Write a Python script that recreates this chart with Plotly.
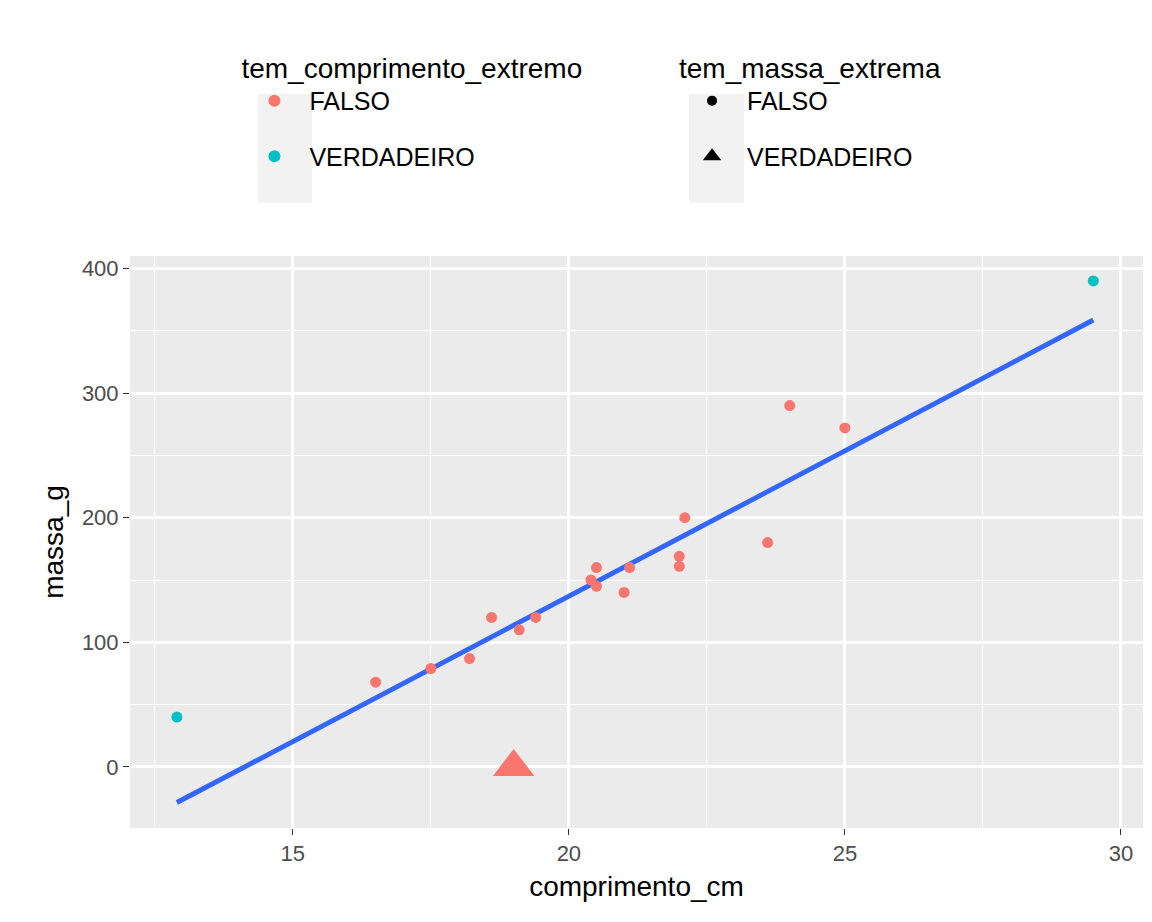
import numpy as np
import plotly.graph_objects as go

# data
comprimento_cm = [12.9, 29.5, 19.0, 16.5, 17.5, 18.2, 18.6, 19.1, 19.4, 20.4, 20.5, 20.5,
                  21.0, 21.1, 22.0, 22.0, 22.1, 23.6, 24.0, 25.0]
massa_g = [40, 390, 0, 68, 79, 87, 120, 110, 120, 150, 160, 145,
           140, 160, 169, 161, 200, 180, 290, 272]
comp_extremo = [True, True] + [False] * 18
massa_extrema = [False, False, True] + [False] * 17

RED, TEAL = "#F8766D", "#00BFC4"

fig = go.Figure()

coef = np.polyfit(comprimento_cm, massa_g, 1)
xs = [min(comprimento_cm), max(comprimento_cm)]
fig.add_trace(go.Scatter(x=xs, y=[coef[0] * v + coef[1] for v in xs], mode="lines",
                         line=dict(color="#3366FF", width=5), showlegend=False, hoverinfo="skip"))

for ce in (False, True):
    for me in (False, True):
        xx = [x for x, c, m in zip(comprimento_cm, comp_extremo, massa_extrema) if c == ce and m == me]
        yy = [y for y, c, m in zip(massa_g, comp_extremo, massa_extrema) if c == ce and m == me]
        if not xx:
            continue
        fig.add_trace(go.Scatter(x=xx, y=yy, mode="markers", showlegend=False,
                                 marker=dict(color=TEAL if ce else RED,
                                             symbol="triangle-up" if me else "circle",
                                             size=36 if me else 11, line=dict(width=0))))

fig.add_trace(go.Scatter(x=[None], y=[None], mode="markers", name="FALSO", legend="legend",
                         legendgroup="a1", marker=dict(color=RED, size=12)))
fig.add_trace(go.Scatter(x=[None], y=[None], mode="markers", name="VERDADEIRO", legend="legend",
                         legendgroup="a2", marker=dict(color=TEAL, size=12)))
fig.add_trace(go.Scatter(x=[None], y=[None], mode="markers", name="FALSO", legend="legend2",
                         legendgroup="b1", marker=dict(color="black", size=10)))
fig.add_trace(go.Scatter(x=[None], y=[None], mode="markers", name="VERDADEIRO", legend="legend2",
                         legendgroup="b2", marker=dict(color="black", size=30, symbol="triangle-up")))

leg_common = dict(bgcolor="rgba(0,0,0,0)", font=dict(size=25, color="black", family="Liberation Sans"),
                  itemsizing="trace", itemwidth=60, yanchor="top", xanchor="left", y=1.375,
                  yref="paper", tracegroupgap=20)
shapes = [dict(type="rect", xref="paper", yref="paper", x0=x0, x1=x0 + 0.054, y0=1.093, y1=1.283,
               fillcolor="#F2F2F2", line=dict(width=0), layer="below") for x0 in (0.126, 0.552)]
fig.update_layout(
    width=1152, height=922,
    paper_bgcolor="white", plot_bgcolor="#EBEBEB",
    margin=dict(l=122, r=17, t=248, b=102),
    font=dict(family="Liberation Sans", color="black"),
    shapes=shapes,
    legend=dict(**leg_common, x=0.108, title=dict(text="tem_comprimento_extremo", side="top",
                                                  font=dict(size=28))),
    legend2=dict(**leg_common, x=0.54, title=dict(text="tem_massa_extrema", side="top",
                                                  font=dict(size=28))),
    xaxis=dict(range=[12.05, 30.4], tickvals=[15, 20, 25, 30], showgrid=True, gridcolor="white",
               gridwidth=2.5, zeroline=False, ticks="outside", ticklen=6, tickcolor="#333333",
               tickfont=dict(size=22, color="#4D4D4D"), automargin=False,
               minor=dict(tickvals=[12.5, 17.5, 22.5, 27.5], showgrid=True, gridcolor="white",
                          gridwidth=1.2, ticks=""),
               title=dict(text="comprimento_cm", font=dict(size=28), standoff=10)),
    yaxis=dict(range=[-49, 410], tickvals=[0, 100, 200, 300, 400], showgrid=True, gridcolor="white",
               gridwidth=2.5, zeroline=False, ticks="outside", ticklen=6, tickcolor="#333333",
               tickfont=dict(size=22, color="#4D4D4D"), automargin=False,
               minor=dict(tickvals=[-50, 50, 150, 250, 350], showgrid=True, gridcolor="white",
                          gridwidth=1.2, ticks=""),
               title=dict(text="massa_g", font=dict(size=28), standoff=10)),
)
fig.write_html("out.html")
